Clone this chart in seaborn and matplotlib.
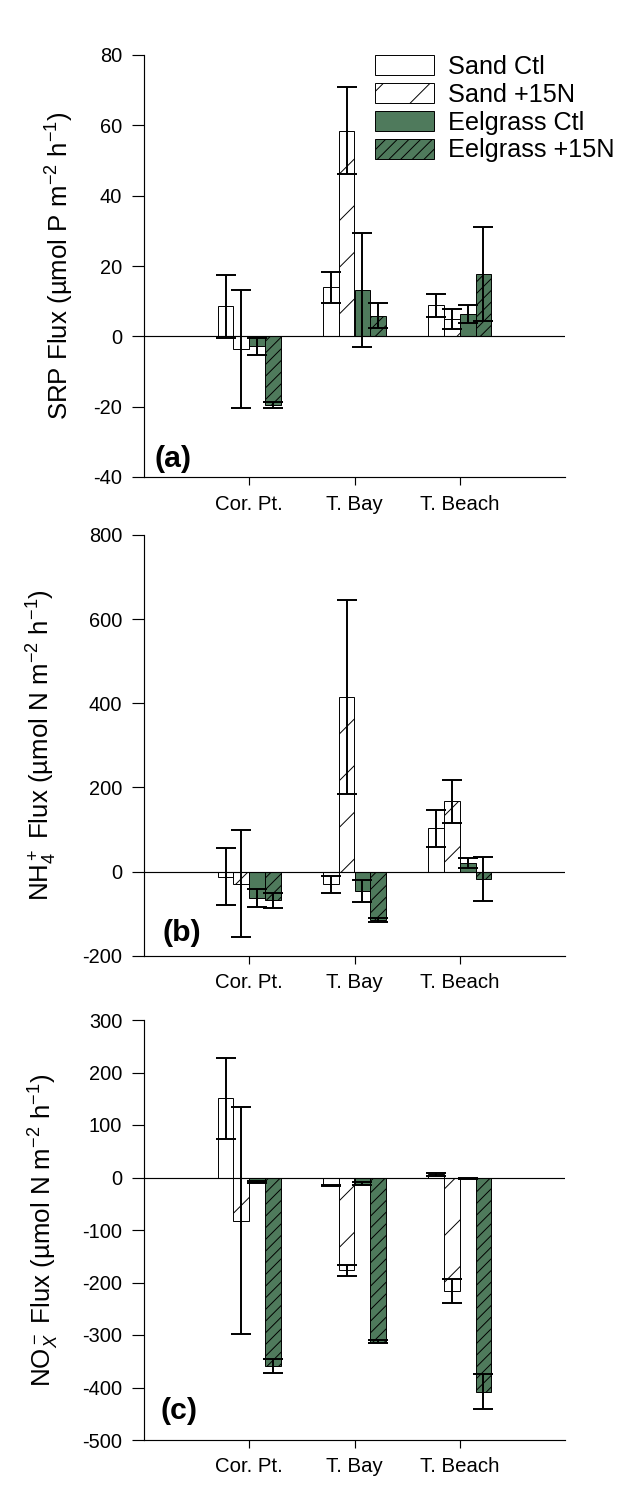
import numpy as np
import pandas as pd
import matplotlib
matplotlib.use("Agg")
import matplotlib.pyplot as plt
import seaborn as sns

# ---------------- data ----------------
sites = ["Cor. Pt.", "T. Bay", "T. Beach"]
treatments = ["Sand Ctl", "Sand +15N", "Eelgrass Ctl", "Eelgrass +15N"]

# SRP flux (umol P m-2 h-1)
srp_sand_ctl = [8.5, 13.9, 8.8]
srp_sand_15n = [-3.6, 58.5, 5.0]
srp_eel_ctl = [-2.8, 13.2, 6.3]
srp_eel_15n = [-19.5, 5.9, 17.7]
srp_sand_ctl_se = [9.0, 4.4, 3.2]
srp_sand_15n_se = [16.7, 12.3, 2.8]
srp_eel_ctl_se = [2.4, 16.2, 2.5]
srp_eel_15n_se = [0.9, 3.6, 13.3]

# NH4+ flux (umol N m-2 h-1)
nh4_sand_ctl = [-12, -30, 103]
nh4_sand_15n = [-29, 415, 167]
nh4_eel_ctl = [-63, -47, 20]
nh4_eel_15n = [-68, -115, -17]
nh4_sand_ctl_se = [68, 20, 44.5]
nh4_sand_15n_se = [127, 231, 51.5]
nh4_eel_ctl_se = [20.5, 26, 12]
nh4_eel_15n_se = [18, 4, 52]

# NOx- flux (umol N m-2 h-1)
nox_sand_ctl = [151, -15, 6]
nox_sand_15n = [-82, -177, -216]
nox_eel_ctl = [-9, -12, -1]
nox_eel_15n = [-359, -313, -408]
nox_sand_ctl_se = [77, 1.5, 3]
nox_sand_15n_se = [217, 10, 23.5]
nox_eel_ctl_se = [2, 3, 1]
nox_eel_15n_se = [14, 3, 33]

srp_ticks = [-40, -20, 0, 20, 40, 60, 80]
nh4_ticks = [-200, 0, 200, 400, 600, 800]
nox_ticks = [-500, -400, -300, -200, -100, 0, 100, 200, 300]

# ---------------- style ----------------
sns.set_style("ticks")
plt.rcParams["font.family"] = ["Liberation Sans", "DejaVu Sans"]
plt.rcParams["mathtext.fontset"] = "custom"
plt.rcParams["mathtext.rm"] = "Liberation Sans"
plt.rcParams["mathtext.it"] = "Liberation Sans:italic"
plt.rcParams["mathtext.bf"] = "Liberation Sans:bold"
plt.rcParams["axes.unicode_minus"] = False
plt.rcParams["hatch.linewidth"] = 0.5
plt.rcParams["axes.edgecolor"] = "black"
plt.rcParams["text.color"] = "black"
plt.rcParams["axes.labelcolor"] = "black"
plt.rcParams["xtick.color"] = "black"
plt.rcParams["ytick.color"] = "black"

GREEN = "#4F7A5C"
colors = ["white", "white", GREEN, GREEN]
hatches = ["", "/", "", "////"]

DPI = 140
fig = plt.figure(figsize=(636 / DPI, 1487 / DPI), dpi=DPI)

L, W = 144 / 636, 421 / 636


def make_axes(top_px, bot_px):
    return fig.add_axes([L, 1 - bot_px / 1487, W, (bot_px - top_px) / 1487])


def panel(ax, means, errs, ylim, yticks, ylabel, tag, tagpos, labelpad, legend=False):
    rows = []
    for t, m in zip(treatments, means):
        for s, v in zip(sites, m):
            rows.append({"site": s, "treatment": t, "value": v})
    df = pd.DataFrame(rows)
    sns.barplot(data=df, x="site", y="value", hue="treatment", order=sites,
                hue_order=treatments, palette=dict(zip(treatments, colors)),
                saturation=1, edgecolor="black", linewidth=0.5, width=0.6,
                errorbar=None, legend=False, ax=ax, zorder=2)
    bar_containers = list(ax.containers)
    for cont, h, m, e in zip(bar_containers, hatches, means, errs):
        xs = []
        for p in cont.patches:
            p.set_hatch(h)
            xs.append(p.get_x() + p.get_width() / 2)
        ax.errorbar(xs, m, yerr=e, fmt="none", ecolor="black", elinewidth=1.0,
                    capsize=5.3, capthick=1.0, zorder=4)
    ax.axhline(0, color="black", lw=0.6, zorder=3)
    ax.set_xlim(-1, 3)
    ax.set_ylim(*ylim)
    ax.set_yticks(yticks)
    ax.set_xlabel("")
    ax.set_ylabel(ylabel, fontsize=13.3, labelpad=labelpad)
    ax.tick_params(axis="y", length=6.2, width=0.6, pad=5, labelsize=10.3)
    ax.tick_params(axis="x", length=4, width=0.6, pad=5, labelsize=10.5)
    for sp in ["left", "bottom"]:
        ax.spines[sp].set_linewidth(0.6)
    sns.despine(ax=ax)
    ax.text(tagpos[0], tagpos[1], tag, transform=ax.transAxes, fontsize=15.5,
            fontweight="bold", ha="left", va="bottom")
    if legend:
        handles = [c.patches[0] for c in bar_containers]
        ax.legend(handles, treatments, loc="upper left", bbox_to_anchor=(0.549, 1.0),
                  frameon=False, fontsize=13, handlelength=2.33, handleheight=0.83,
                  labelspacing=0.15, handletextpad=0.55, borderpad=0, borderaxespad=0)


ax_a = make_axes(55, 477)
panel(ax_a,
      [srp_sand_ctl, srp_sand_15n, srp_eel_ctl, srp_eel_15n],
      [srp_sand_ctl_se, srp_sand_15n_se, srp_eel_ctl_se, srp_eel_15n_se],
      (-40, 80), srp_ticks,
      "SRP Flux (µmol P m$^{-2}$ h$^{-1}$)", "(a)", (0.026, 0.01), 9, legend=True)

ax_b = make_axes(535, 955.7)
panel(ax_b,
      [nh4_sand_ctl, nh4_sand_15n, nh4_eel_ctl, nh4_eel_15n],
      [nh4_sand_ctl_se, nh4_sand_15n_se, nh4_eel_ctl_se, nh4_eel_15n_se],
      (-200, 800), nh4_ticks,
      "NH$_4^+$ Flux (µmol N m$^{-2}$ h$^{-1}$)", "(b)", (0.045, 0.021), 12)

ax_c = make_axes(1020, 1440)
panel(ax_c,
      [nox_sand_ctl, nox_sand_15n, nox_eel_ctl, nox_eel_15n],
      [nox_sand_ctl_se, nox_sand_15n_se, nox_eel_ctl_se, nox_eel_15n_se],
      (-500, 300), nox_ticks,
      "NO$_X^-$ Flux (µmol N m$^{-2}$ h$^{-1}$)", "(c)", (0.04, 0.036), 11)

fig.savefig("out.png", dpi=DPI, facecolor="white")
